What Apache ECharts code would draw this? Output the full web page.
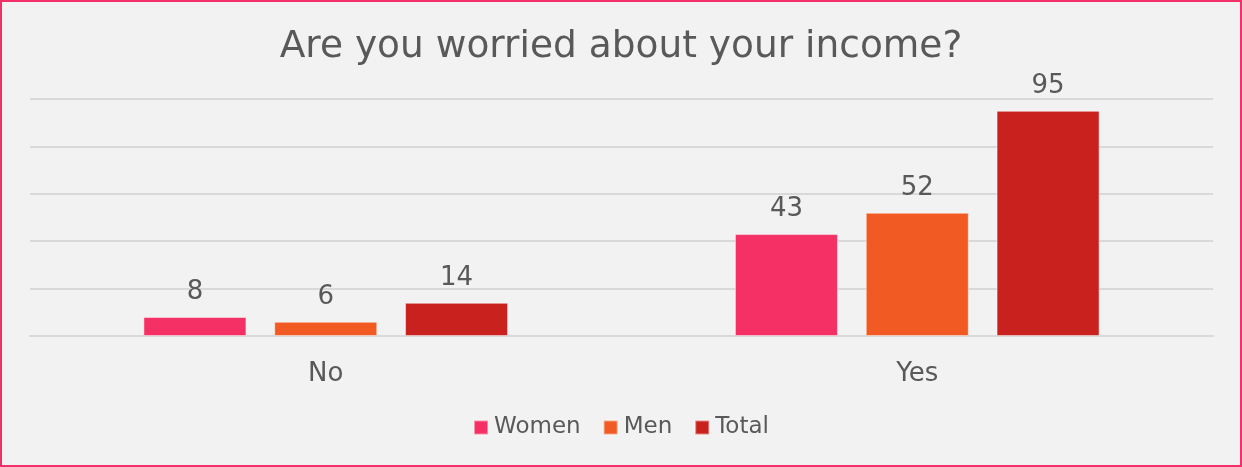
<!DOCTYPE html>
<html>
<head>
<meta charset="utf-8">
<script src="https://cdn.jsdelivr.net/npm/echarts@6/dist/echarts.min.js"></script>
<style>
    html, body { margin: 0; padding: 0; background: #f2f2f2; }
    #chart { width: 1242px; height: 467px; box-sizing: border-box; border: 2px solid #f4306a; background: #f2f2f2; }
</style>
</head>
<body>
<div id="chart"></div>
<script>
// 图表数据
const categories = ['No', 'Yes'];
const women = [8, 43];
const men = [6, 52];
const total = [14, 95];

const FONT = "'DejaVu Sans', Verdana, sans-serif";

const chartDom = document.getElementById('chart');
const myChart = echarts.init(chartDom);

const labelStyle = {
    show: true,
    position: 'top',
    distance: 12,
    color: '#595959',
    fontSize: 26,
    fontFamily: FONT
};

const makeSeries = (name, data, color) => ({
    name: name,
    type: 'bar',
    data: data,
    barWidth: 103,
    barGap: '27%',
    itemStyle: {
        color: color,
        borderColor: 'rgba(255,255,255,0.45)',
        borderWidth: 1
    },
    label: labelStyle
});

let option = {
    backgroundColor: '#f2f2f2',
    textStyle: { fontFamily: FONT },
    title: {
        text: 'Are you worried about your income?',
        left: 'center',
        top: 21,
        textStyle: {
            color: '#595959',
            fontSize: 37.5,
            fontWeight: 'normal',
            fontFamily: FONT
        }
    },
    legend: {
        bottom: 21,
        left: 'center',
        itemWidth: 14,
        itemHeight: 14,
        itemGap: 22,
        icon: 'rect',
        textStyle: { color: '#595959', fontSize: 23, fontFamily: FONT, padding: [0, 0, 0, 1] },
        data: ['Women', 'Men', 'Total']
    },
    grid: {
        left: 28,
        right: 27,
        top: 97,
        bottom: 129,
        containLabel: false
    },
    xAxis: {
        type: 'category',
        data: categories,
        axisLine: { lineStyle: { color: '#d9d9d9', width: 2 } },
        axisTick: { show: false },
        axisLabel: { color: '#595959', fontSize: 26, margin: 25, fontFamily: FONT }
    },
    yAxis: {
        type: 'value',
        min: 0,
        max: 100,
        interval: 20,
        axisLabel: { show: false },
        axisLine: { show: false },
        axisTick: { show: false },
        splitLine: { lineStyle: { color: '#d9d9d9', width: 2 } }
    },
    series: [
        makeSeries('Women', women, '#f43064'),
        makeSeries('Men', men, '#f15a22'),
        makeSeries('Total', total, '#c9221e')
    ]
};
myChart.setOption(option);
</script>
</body>
</html>
